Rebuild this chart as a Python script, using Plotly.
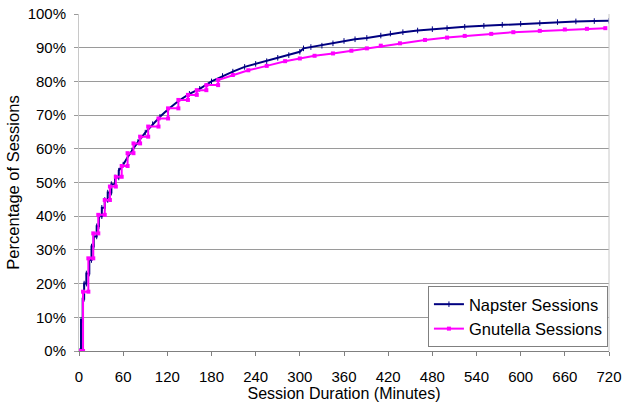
import plotly.graph_objects as go

# Session duration (minutes) and cumulative percentage of sessions (step corners)
napster_min = [0, 2.7, 2.7, 5, 5, 7, 7, 10, 10, 14, 14, 17, 17, 20, 20, 24, 24, 27, 27, 31, 31,
               35, 35, 39, 39, 44, 44, 49, 49, 54, 54, 60, 66, 72, 80,
               90, 100, 110, 120, 135, 150, 164, 180, 195, 209, 225, 240, 255, 270, 285, 300,
               305, 315, 330, 345, 360, 375, 391, 410, 423, 440, 460, 480, 500, 524, 550, 575,
               600, 626, 650, 675, 700, 720]
napster_pct = [0, 0, 9.2, 9.2, 15.5, 15.5, 20, 20, 23, 23, 27, 27, 31, 31, 34, 34, 37, 37, 40,
               40, 42.5, 42.5, 44.8, 44.8, 47, 47, 49.5, 49.5, 51.5, 51.5, 53.5, 55.3,
               57.5, 59.5, 62, 64.8, 67.3, 69.5, 71.5, 74.2, 76.3, 77.8, 80, 81.6, 82.9, 84.3,
               85.2, 86, 87, 87.8, 88.8, 89.8, 90.2, 90.6, 91.3, 92, 92.5, 92.9, 93.6, 94.2,
               94.6, 95.1, 95.5, 95.8, 96.2, 96.5, 96.8, 97.1, 97.3, 97.6, 97.8, 97.9, 98]

gnutella_min = [0, 5.5, 5.5, 12.7, 12.7, 19.4, 19.4, 26.2, 26.2, 35, 35, 42, 42, 50, 50, 58, 58,
                66, 66, 74, 74, 83, 83, 94, 94, 108, 108, 121, 121, 135, 135, 148, 148,
                160, 160, 173, 173, 189, 189, 209, 230, 255, 280, 300, 320, 345, 370, 391, 410,
                436, 470, 500, 524, 560, 590, 626, 660, 690, 715]
gnutella_pct = [0, 0, 17.6, 17.6, 27.5, 27.5, 34.9, 34.9, 40.4, 40.4, 44.8, 44.8, 48.8, 48.8,
                51.7, 51.7, 54.9, 54.9, 58.7, 58.7, 61.6, 61.6, 63.6, 63.6, 66.6, 66.6, 69.0,
                69.0, 72.0, 72.0, 74.5, 74.5, 76.0, 76.0, 77.4, 77.4, 78.9, 78.9, 80.4, 81.9,
                83.3, 84.6, 86, 86.8, 87.6, 88.3, 89.1, 89.8, 90.6, 91.3, 92.3, 93, 93.5, 94.1,
                94.6, 95, 95.4, 95.6, 95.8]

x_ticks = list(range(0, 721, 60))
y_ticks = [i / 10 for i in range(11)]

FONT = "Liberation Sans, Arial, sans-serif"

fig = go.Figure()
fig.add_trace(go.Scatter(
    x=napster_min, y=[p / 100 for p in napster_pct], name="Napster Sessions",
    mode="lines+markers", line=dict(color="#000080", width=2),
    marker=dict(symbol="line-ns", size=4, color="#000080", line=dict(color="#000080", width=1)),
))
fig.add_trace(go.Scatter(
    x=gnutella_min, y=[p / 100 for p in gnutella_pct], name="Gnutella Sessions",
    mode="lines+markers", line=dict(color="#FF00FF", width=2),
    marker=dict(symbol="square", size=4, color="#FF00FF"),
))

fig.update_layout(
    width=623, height=409,
    margin=dict(l=79, r=14, t=14, b=58),
    paper_bgcolor="white", plot_bgcolor="white",
    font=dict(family=FONT, size=15, color="#000"),
    showlegend=True,
    legend=dict(x=0.998, y=0.012, xanchor="right", yanchor="bottom",
                bgcolor="white", bordercolor="#808080", borderwidth=1,
                font=dict(family=FONT, size=16.5, color="#000"),
                itemwidth=30, tracegroupgap=0),
)
fig.update_xaxes(
    range=[0, 720], tickvals=x_ticks, ticktext=[str(v) for v in x_ticks],
    showgrid=False, showline=True, linecolor="#808080", linewidth=1,
    ticks="outside", ticklen=4, tickcolor="#808080",
    mirror=False, zeroline=False, automargin=False, ticklabelstandoff=8,
    title=dict(text="Session Duration (Minutes)", font=dict(family=FONT, size=16), standoff=2),
    tickfont=dict(family=FONT, size=15),
)
fig.update_yaxes(
    range=[0, 1], tickvals=y_ticks, ticktext=[f"{int(round(v * 100))}%" for v in y_ticks],
    showgrid=True, gridcolor="#9a9a9a", gridwidth=1,
    showline=True, linecolor="#c8c8c8", linewidth=1,
    ticks="outside", ticklen=4, tickcolor="#9a9a9a",
    zeroline=False, automargin=False, ticklabelstandoff=5,
    title=dict(text="Percentage of Sessions", font=dict(family=FONT, size=16.5), standoff=3),
    tickfont=dict(family=FONT, size=15),
)
# light right border of plot area
fig.add_shape(type="line", xref="paper", yref="paper", x0=1, x1=1, y0=0, y1=1,
              line=dict(color="#c8c8c8", width=1))

fig.write_html("out.html", config={"displayModeBar": False},
               post_script="document.body.style.margin='0px';")
